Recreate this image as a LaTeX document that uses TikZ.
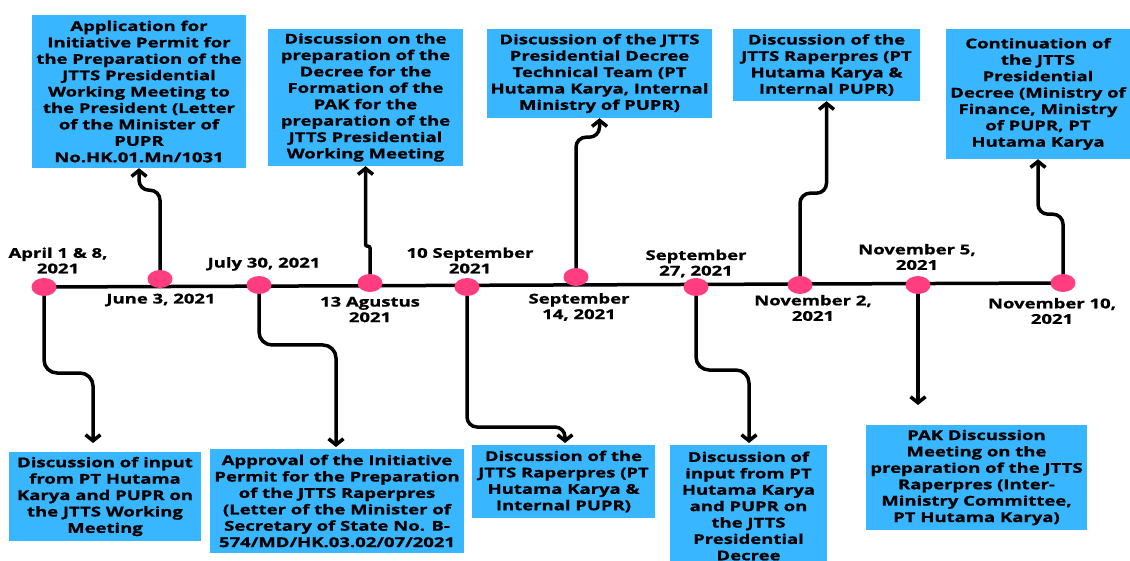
\documentclass[tikz,border=0pt]{standalone}
\usepackage{fontspec}
\setmainfont{Open Sans}[BoldFeatures={FakeStretch=1.37,FakeBold=1}]
\usetikzlibrary{arrows.meta,backgrounds,shapes.geometric,calc}
\definecolor{boxblue}{HTML}{38B6FF}
\definecolor{dotpink}{HTML}{FF3D7F}
\tikzset{
  evbox/.style={fill=boxblue, draw=none, inner sep=0pt, align=center,
    font=\bfseries\fontsize{13.5}{16.4}\selectfont},
  tdot/.style={ellipse, fill=dotpink, draw=none, minimum width=25pt, minimum height=18pt, inner sep=0pt},
  datelbl/.style={align=center, inner sep=0pt, font=\bfseries\fontsize{13.5}{15.5}\selectfont},
  conn/.style={line width=3.5pt, rounded corners=13pt, -{Straight Barb[length=6pt,width=15pt]}},
  tline/.style={line width=3.5pt}
}
\begin{document}
\begin{tikzpicture}[x=1pt,y=-1pt]
\useasboundingbox (0,0) rectangle (1130,561);

% dots
\node[tdot] (d1) at (44,287) {};
\node[tdot] (d2) at (160,279) {};
\node[tdot] (d3) at (259,285) {};
\node[tdot] (d4) at (370,283) {};
\node[tdot] (d5) at (467,287) {};
\node[tdot] (d6) at (576,277) {};
\node[tdot] (d7) at (696,287) {};
\node[tdot] (d8) at (800,285) {};
\node[tdot] (d9) at (918,285) {};
\node[tdot] (d10) at (1063,283) {};

% date labels
\node[datelbl] (t1) at (58,260.5) {April 1 \& 8,\\2021};
\node[datelbl] (t2) at (161,300) {June 3, 2021};
\node[datelbl] (t3) at (264,264) {July 30, 2021};
\node[datelbl] (t4) at (370,309.5) {13 Agustus\\2021};
\node[datelbl] (t5) at (470,260.5) {10 September\\2021};
\node[datelbl] (t6) at (579,307) {September\\14, 2021};
\node[datelbl] (t7) at (696,263.5) {September\\27, 2021};
\node[datelbl] (t8) at (813,308) {November 2,\\2021};
\node[datelbl] (t9) at (917,257) {November 5,\\2021};
\node[datelbl] (t10) at (1052,311) {November 10,\\2021};

% top boxes
\node[evbox, minimum width=214pt, minimum height=153pt] (A) at (139,91.5)
  {Application for\\Initiative Permit for\\the Preparation of the\\JTTS Presidential\\Working Meeting to\\the President (Letter\\of the Minister of\\PUPR\\No.HK.01.Mn/1031};
\node[evbox, minimum width=195pt, minimum height=137pt] (B) at (365.5,97.5)
  {Discussion on the\\preparation of the\\Decree for the\\Formation of the\\PAK for the\\preparation of the\\JTTS Presidential\\Working Meeting};
\node[evbox, minimum width=225pt, minimum height=89pt] (C) at (599.5,73.5)
  {Discussion of the JTTS\\Presidential Decree\\Technical Team (PT\\Hutama Karya, Internal\\Ministry of PUPR)};
\node[evbox, minimum width=187pt, minimum height=72pt] (D) at (826.5,65)
  {Discussion of the\\JTTS Raperpres (PT\\Hutama Karya \&\\Internal PUPR)};
\node[evbox, minimum width=184pt, minimum height=130pt] (E) at (1038,94)
  {Continuation of\\the JTTS\\Presidential\\Decree (Ministry of\\Finance, Ministry\\of PUPR, PT\\Hutama Karya};

% bottom boxes
\node[evbox, minimum width=192pt, minimum height=89pt] (F) at (105,496.5)
  {Discussion of input\\from PT Hutama\\Karya and PUPR on\\the JTTS Working\\Meeting};
\node[evbox, minimum width=254pt, minimum height=104pt] (G) at (337,501)
  {Approval of the Initiative\\Permit for the Preparation\\of the JTTS Raperpres\\(Letter of the Minister of\\Secretary of State No. B-\\574/MD/HK.03.02/07/2021};
\node[evbox, minimum width=183pt, minimum height=73pt] (H) at (563.5,481.5)
  {Discussion of the\\JTTS Raperpres (PT\\Hutama Karya \&\\Internal PUPR)};
\node[evbox, minimum width=157pt, minimum height=122pt] (I) at (748.5,506)
  {Discussion of\\input from PT\\Hutama Karya\\and PUPR on\\the JTTS\\Presidential\\Decree};
\node[evbox, minimum width=221pt, minimum height=105pt] (J) at (976.5,477.5)
  {PAK Discussion\\Meeting on the\\preparation of the JTTS\\Raperpres (Inter-\\Ministry Committee,\\PT Hutama Karya)};

% free ends of the downward arrows
\coordinate (tF) at (93,443);
\coordinate (tG) at (336,447);
\coordinate (tH) at (565,443);
\coordinate (tI) at (749,443);
\coordinate (tJ) at (918,405);

\begin{scope}[on background layer]
  \draw[tline] (d1.center) -- (d10.center);
  % upward
  \draw[conn, rounded corners=10pt] (d2.center) |- ($(A.south)+(0,22)$) -- (A.south);
  \draw[conn, rounded corners=2pt] (d4.center) |- ($(B.south)+(0,80)$) -- (B.south);
  \draw[conn, rounded corners=10pt] (d6.center) |- ($(C.south)+(0,19)$) -- (C.south);
  \draw[conn, rounded corners=10pt] (d8.center) |- ($(D.south)+(0,92)$) -- (D.south);
  \draw[conn, rounded corners=10pt] (d10.center) |- ($(E.south)+(0,55)$) -- (E.south);
  % downward
  \draw[conn] (d1.center) |- ($(tF)+(0,-70)$) -- (tF);
  \draw[conn] (d3.center) |- ($(tG)+(0,-102)$) -- (tG);
  \draw[conn, rounded corners=10pt] (d5.center) |- ($(tH)+(0,-16)$) -- (tH);
  \draw[conn] (d7.center) |- ($(tI)+(0,-73)$) -- (tI);
  \draw[conn] (d9.center) -- (tJ);
\end{scope}
\end{tikzpicture}
\end{document}
